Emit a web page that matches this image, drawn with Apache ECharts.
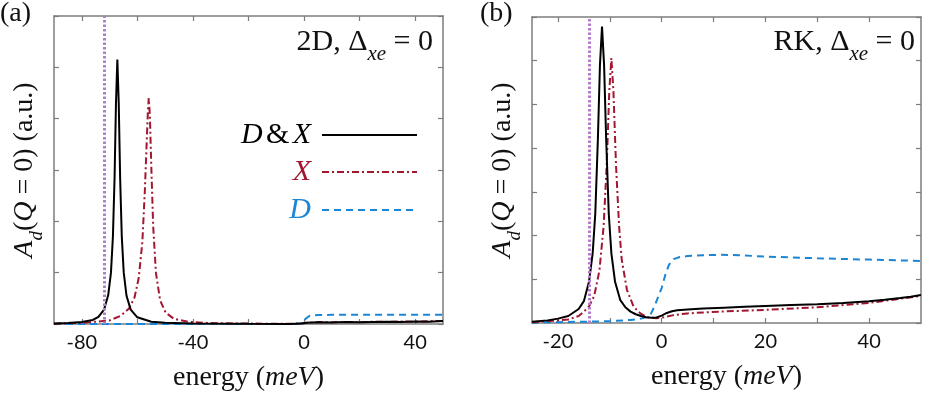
<!DOCTYPE html>
<html>
<head>
<meta charset="utf-8">
<script src="https://cdn.jsdelivr.net/npm/echarts@6/dist/echarts.min.js"></script>
<style>
  html, body { margin: 0; padding: 0; background: #fff; }
  #chart { width: 926px; height: 394px; }
</style>
</head>
<body>
<div id="chart"></div>
<script>
// (a) 2D, Δxe = 0
const aDXEnergy = [-90, -85, -80, -76, -74, -72, -70.5, -69.5, -68.8, -68.2, -67.7, -67.2, -66.7, -66.2, -65.6, -64.9, -63.9, -62.4, -60, -55, -50, -40, -20, -5, -1, 1, 3, 5, 10, 15, 20, 25, 30, 35, 40, 45, 50]
const aDXValue = [0.01, 0.02, 0.04, 0.08, 0.14, 0.28, 0.56, 1.0, 1.7, 2.85, 4.3, 5.15, 4.3, 2.85, 1.7, 1.0, 0.55, 0.28, 0.13, 0.045, 0.022, 0.008, 0.003, 0.002, 0.01, 0.025, 0.03, 0.035, 0.03, 0.04, 0.035, 0.04, 0.045, 0.04, 0.05, 0.045, 0.06]
const aXEnergy = [-90, -80, -70, -66, -63, -61, -59.5, -58.2, -57.3, -56.6, -56.2, -55.9, -55.5, -55, -54.3, -53.3, -51.8, -49.8, -46.8, -41.8, -35, -25, -10, -1, 1, 3, 5, 10, 15, 20, 25, 30, 35, 40, 45, 50]
const aXValue = [0.007, 0.02, 0.07, 0.16, 0.3, 0.52, 0.9, 1.6, 2.6, 3.6, 4.15, 4.4, 4.07, 3.1, 1.9, 0.99, 0.46, 0.22, 0.1, 0.043, 0.02, 0.01, 0.005, 0.008, 0.025, 0.03, 0.04, 0.035, 0.04, 0.035, 0.045, 0.04, 0.05, 0.045, 0.055, 0.06]
const aDEnergy = [-90, -60, -30, -3, -1, 0, 0.5, 1, 2, 3, 5, 10, 20, 30, 40, 50]
const aDValue = [0, 0, 0, 0.002, 0.02, 0.06, 0.1, 0.13, 0.16, 0.17, 0.175, 0.178, 0.18, 0.18, 0.18, 0.18]
const aRef = -72

// (b) RK, Δxe = 0
const bDXEnergy = [-25, -22, -20, -18, -16, -15, -14, -13.3, -12.8, -12.3, -11.9, -11.5, -11.1, -10.7, -10.2, -9.7, -9, -8, -7, -6, -5, -4, -3, -2, -1, 0, 1, 2, 3, 5, 8, 12, 16, 20, 25, 30, 35, 40, 43, 46, 48, 50]
const bDXValue = [0.03, 0.06, 0.1, 0.16, 0.32, 0.5, 0.95, 1.6, 2.5, 4.2, 5.9, 6.78, 5.9, 4.2, 2.5, 1.6, 0.95, 0.53, 0.36, 0.26, 0.2, 0.16, 0.13, 0.12, 0.125, 0.17, 0.23, 0.27, 0.29, 0.31, 0.33, 0.35, 0.37, 0.39, 0.41, 0.43, 0.46, 0.5, 0.53, 0.57, 0.6, 0.64]
const bXEnergy = [-25, -21, -18, -16, -15, -14, -13, -12, -11.2, -10.6, -10.1, -9.7, -9.3, -8.8, -8.2, -7.7, -6.7, -5.4, -4.1, -2.8, -1, 0.4, 2.3, 5, 11, 20, 30, 40, 45, 50]
const bXValue = [0.02, 0.05, 0.08, 0.16, 0.26, 0.38, 0.62, 1.2, 2.2, 3.6, 5.3, 6.06, 5.3, 3.6, 2.2, 1.45, 0.76, 0.37, 0.22, 0.13, 0.11, 0.13, 0.18, 0.22, 0.26, 0.3, 0.36, 0.46, 0.54, 0.62]
const bDEnergy = [-25, -20, -15, -10, -6, -4, -3, -2.2, -1.5, -0.9, 0, 0.7, 1.4, 2.3, 3.5, 5, 8, 11, 15, 20, 30, 40, 50]
const bDValue = [0.01, 0.02, 0.03, 0.04, 0.07, 0.1, 0.13, 0.18, 0.35, 0.53, 0.8, 1.1, 1.33, 1.46, 1.51, 1.53, 1.55, 1.56, 1.55, 1.52, 1.48, 1.45, 1.42]
const bRef = -14

const aTicks = [-80, -60, -40, -20, 0, 20, 40]
const aLabels = [-80, -40, 0, 40]
const bTicks = [-20, -10, 0, 10, 20, 30, 40]
const bLabels = [-20, 0, 20, 40]

const zip = (xs, ys) => xs.map((x, i) => [x, ys[i]])

const SERIF = '"Liberation Serif", "DejaVu Serif", serif'
const FRAME = '#7d7d7d'
const BLACK = '#000000'
const RED = '#a3162f'
const BLUE = '#1b86d6'
const PURPLE = '#b27dc9'

const chart = echarts.init(document.getElementById('chart'), null, {renderer: 'canvas'})

const frameLine = {show: true, onZero: false, lineStyle: {color: FRAME, width: 1.5}}
const frameTick = {show: true, inside: true, length: 5, lineStyle: {color: FRAME, width: 1.2}}

function xAxes(grid, min, max, ticks, labels) {
  return [
    {
      type: 'value', gridIndex: grid, min: min, max: max, position: 'bottom',
      axisLine: frameLine,
      axisTick: {...frameTick, customValues: ticks},
      axisLabel: {show: true, customValues: labels, margin: 9, color: '#111', fontFamily: 'Lato', fontSize: 20},
      splitLine: {show: false},
      name: '{n|energy (}{i|meV}{n|)}',
      nameLocation: 'middle',
      nameGap: 40,
      nameTextStyle: {
        rich: {
          n: {fontFamily: SERIF, fontSize: 28, color: '#111'},
          i: {fontFamily: SERIF, fontSize: 28, fontStyle: 'italic', color: '#111'}
        }
      }
    },
    {
      type: 'value', gridIndex: grid, min: min, max: max, position: 'top',
      axisLine: frameLine,
      axisTick: {...frameTick, customValues: ticks},
      axisLabel: {show: false},
      splitLine: {show: false}
    }
  ]
}

function yAxes(grid, max) {
  return [
    {
      type: 'value', gridIndex: grid, min: 0, max: max, interval: 1, position: 'left',
      axisLine: frameLine,
      axisTick: frameTick,
      axisLabel: {show: false},
      splitLine: {show: false},
      name: '{i|A}{s|d}{n|(}{i|Q}{n| = 0) (a.u.)}',
      nameLocation: 'middle',
      nameGap: 8,
      nameTextStyle: {
        rich: {
          n: {fontFamily: SERIF, fontSize: 28, color: '#111', verticalAlign: 'bottom', padding: [0, 0, 7, 0]},
          i: {fontFamily: SERIF, fontSize: 28, fontStyle: 'italic', color: '#111', verticalAlign: 'bottom', padding: [0, 0, 7, 0]},
          s: {fontFamily: SERIF, fontSize: 19, fontStyle: 'italic', color: '#111', verticalAlign: 'bottom'}
        }
      }
    },
    {
      type: 'value', gridIndex: grid, min: 0, max: max, interval: 1, position: 'right',
      axisLine: frameLine,
      axisTick: frameTick,
      axisLabel: {show: false},
      splitLine: {show: false}
    }
  ]
}

function curves(xIdx, yIdx, dx, x, d, ref) {
  return [
    {
      name: 'D', type: 'line', xAxisIndex: xIdx, yAxisIndex: yIdx, data: d,
      symbol: 'none', z: 2,
      lineStyle: {color: BLUE, width: 2, type: [7, 5]},
      itemStyle: {color: BLUE},
      markLine: {
        silent: true, symbol: 'none', label: {show: false},
        lineStyle: {color: PURPLE, width: 3, type: [2.5, 2]},
        data: [{xAxis: ref}]
      }
    },
    {
      name: 'X', type: 'line', xAxisIndex: xIdx, yAxisIndex: yIdx, data: x,
      symbol: 'none', z: 3,
      lineStyle: {color: RED, width: 2, type: [7, 3, 2, 3]},
      itemStyle: {color: RED}
    },
    {
      name: 'D & X', type: 'line', xAxisIndex: xIdx, yAxisIndex: yIdx, data: dx,
      symbol: 'none', z: 4,
      lineStyle: {color: BLACK, width: 2},
      itemStyle: {color: BLACK}
    }
  ]
}

function legendItem(name, color, top, label) {
  return {
    data: [name],
    right: 508,
    top: top,
    padding: 0,
    align: 'right',
    itemWidth: 95,
    itemHeight: 14,
    selectedMode: false,
    itemStyle: {opacity: 0},
    formatter: () => label,
    textStyle: {
      padding: [0, 6, 0, 0],
      rich: {
        i: {fontFamily: SERIF, fontSize: 30, fontStyle: 'italic', color: color},
        n: {fontFamily: SERIF, fontSize: 30, color: color}
      }
    }
  }
}

const titleRich = {
  n: {fontFamily: SERIF, fontSize: 30, fill: '#111', verticalAlign: 'bottom', padding: [0, 0, 8, 0]},
  i: {fontFamily: SERIF, fontSize: 21, fontStyle: 'italic', fill: '#111', verticalAlign: 'bottom'}
}

chart.setOption({
  animation: false,
  grid: [
    {left: 54, top: 16, width: 389, height: 308, outerBoundsMode: 'none'},
    {left: 532, top: 17, width: 389, height: 306, outerBoundsMode: 'none'}
  ],
  xAxis: [
    ...xAxes(0, -90, 50, aTicks, aLabels),
    ...xAxes(1, -25, 50, bTicks, bLabels)
  ],
  yAxis: [
    ...yAxes(0, 6),
    ...yAxes(1, 7)
  ],
  legend: [
    legendItem('D & X', BLACK, 120, '{i|D} {n|&} {i|X}'),
    legendItem('X', RED, 157, '{i|X}'),
    legendItem('D', BLUE, 195, '{i|D}')
  ],
  series: [
    ...curves(0, 0, zip(aDXEnergy, aDXValue), zip(aXEnergy, aXValue), zip(aDEnergy, aDValue), aRef),
    ...curves(2, 2, zip(bDXEnergy, bDXValue), zip(bXEnergy, bXValue), zip(bDEnergy, bDValue), bRef)
  ],
  graphic: [
    {type: 'text', left: 0, top: 0, style: {text: '(a)', font: '28px ' + SERIF, fill: '#111'}},
    {type: 'text', left: 480, top: 0, style: {text: '(b)', font: '28px ' + SERIF, fill: '#111'}},
    {
      type: 'text', right: 493, top: 27,
      style: {text: '{n|2D, Δ}{i|xe}{n| = 0}', rich: titleRich}
    },
    {
      type: 'text', right: 11, top: 27,
      style: {text: '{n|RK, Δ}{i|xe}{n| = 0}', rich: titleRich}
    }
  ]
})
</script>
</body>
</html>
